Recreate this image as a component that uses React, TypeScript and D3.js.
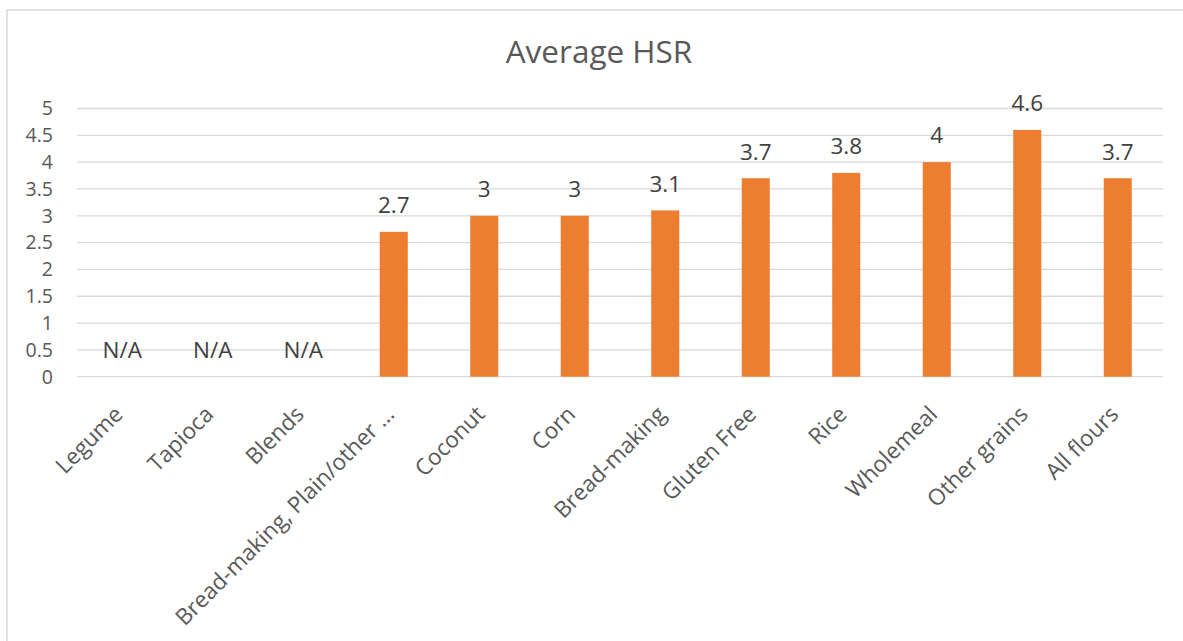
import React from "react";
import * as d3 from "d3";

const categories: string[] = [
  "Legume",
  "Tapioca",
  "Blends",
  "Bread-making, Plain/other …",
  "Coconut",
  "Corn",
  "Bread-making",
  "Gluten Free",
  "Rice",
  "Wholemeal",
  "Other grains",
  "All flours",
];
const values: (number | null)[] = [null, null, null, 2.7, 3, 3, 3.1, 3.7, 3.8, 4, 4.6, 3.7];
const yTicks: number[] = [0, 0.5, 1, 1.5, 2, 2.5, 3, 3.5, 4, 4.5, 5];
const title = "Average HSR";
const missingLabel = "N/A";

const W = 1183;
const H = 641;
const FONT = "'Open Sans', 'Noto Sans', sans-serif";

export default function App() {
  const x = d3
    .scaleBand<string>()
    .domain(categories)
    .range([77, 1163])
    .paddingInner(0.69)
    .paddingOuter(0.345);
  const y = d3.scaleLinear().domain([0, 5]).range([376.7, 108.5]);
  const fmt = (v: number) => d3.format("~g")(v);

  return (
    <div style={{ position: "absolute", left: 0, top: 0, width: W, height: H, background: "#fff" }}>
      <svg width={W} height={H} style={{ display: "block", fontFamily: FONT }}>
        <rect x={7} y={10} width={W + 10} height={H + 10} fill="#fff" stroke="#d9d9d9" strokeWidth={1.5} />
        <text x={599} y={63} textAnchor="middle" fontSize={31.5} fill="#595959">
          {title}
        </text>
        {yTicks.map((t) => (
          <g key={t}>
            <line x1={77} x2={1163} y1={y(t)} y2={y(t)} stroke="#d9d9d9" strokeWidth={1.3} />
            <text x={53} y={y(t)} dy="0.35em" textAnchor="end" fontSize={19.5} fill="#595959">
              {fmt(t)}
            </text>
          </g>
        ))}
        {categories.map((c, i) => {
          const v = values[i];
          const cx = (x(c) as number) + x.bandwidth() / 2;
          return (
            <g key={c}>
              {v !== null && (
                <rect x={x(c)} y={y(v)} width={x.bandwidth()} height={y(0) - y(v)} fill="#ED7D31" />
              )}
              <text
                x={cx}
                y={y(v === null ? 0 : v) - 18.7}
                textAnchor="middle"
                fontSize={22.5}
                fill="#404040"
              >
                {v === null ? missingLabel : fmt(v)}
              </text>
              <text
                transform={`translate(${cx + 2},${y(0) + 39}) rotate(-45)`}
                textAnchor="end"
                fontSize={22.5}
                fill="#595959"
              >
                {c}
              </text>
            </g>
          );
        })}
      </svg>
    </div>
  );
}
